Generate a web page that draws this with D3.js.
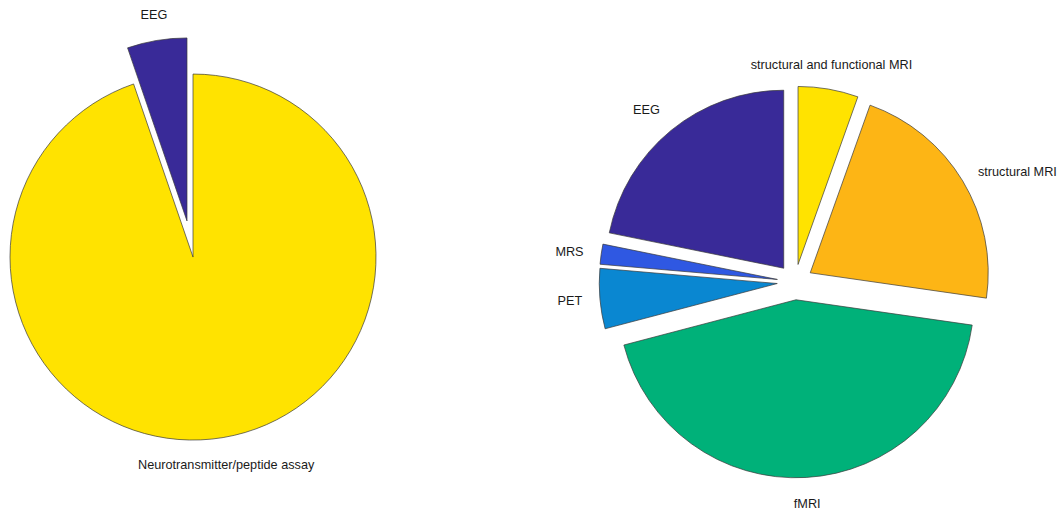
<!DOCTYPE html>
<html>
<head>
<meta charset="utf-8">
<script src="https://cdn.jsdelivr.net/npm/d3@7"></script>
<style>
  body { margin: 0; background: #fff; }
  text { font-family: "Liberation Sans", Arial, Helvetica, sans-serif; font-size: 12.7px; fill: #1a1a1a; }
</style>
</head>
<body>
<div id="drawhere"></div>
<script>
// left pie: study measures
var leftLabels = ["EEG", "Neurotransmitter/peptide assay"];
var leftValues = [1, 18];
var leftColors = ["#392a98", "#ffe300"];

// right pie: imaging modalities
var rightLabels = ["EEG", "MRS", "PET", "fMRI", "structural MRI", "structural and functional MRI"];
var rightValues = [12, 1, 3, 24, 12, 3];
var rightColors = ["#392a98", "#2f58e2", "#0a87d1", "#00b179", "#fdb515", "#ffe300"];

var width = 1060, height = 513;

var svg = d3.select("#drawhere").append("svg")
    .attr("width", width)
    .attr("height", height);

// matlab style pie: starts at top, goes counterclockwise, all slices exploded
function drawPie(labels, values, colors, cx, cy, r) {
    var pie = d3.pie().sort(null).startAngle(0).endAngle(-2 * Math.PI);
    var arc = d3.arc().innerRadius(0).outerRadius(r);
    var slices = pie(values);

    var g = svg.append("g").attr("transform", "translate(" + cx + "," + cy + ")");

    slices.forEach(function (d, i) {
        var mid = (d.startAngle + d.endAngle) / 2;
        var dx = Math.sin(mid), dy = -Math.cos(mid);
        var off = 0.1 * r;

        g.append("path")
            .attr("d", arc(d))
            .attr("transform", "translate(" + (dx * off) + "," + (dy * off) + ")")
            .attr("fill", colors[i])
            .attr("stroke", "#3a3a3a")
            .attr("stroke-width", 0.7);

        // label sits at 1.2 r, aligned away from the pie
        var lx = dx * 1.2 * r, ly = dy * 1.2 * r;
        var anchor = Math.abs(dx) < 0.3 ? "middle" : (dx > 0 ? "start" : "end");
        var base;
        if (dy < -0.6) base = -3;
        else if (dy > 0.6) base = 13;
        else base = 4.5;

        g.append("text")
            .attr("x", lx)
            .attr("y", ly + base)
            .attr("text-anchor", anchor)
            .text(labels[i]);
    });
}

drawPie(leftLabels, leftValues, leftColors, 190, 239, 183);
drawPie(rightLabels, rightValues, rightColors, 795, 282, 178);
</script>
</body>
</html>
